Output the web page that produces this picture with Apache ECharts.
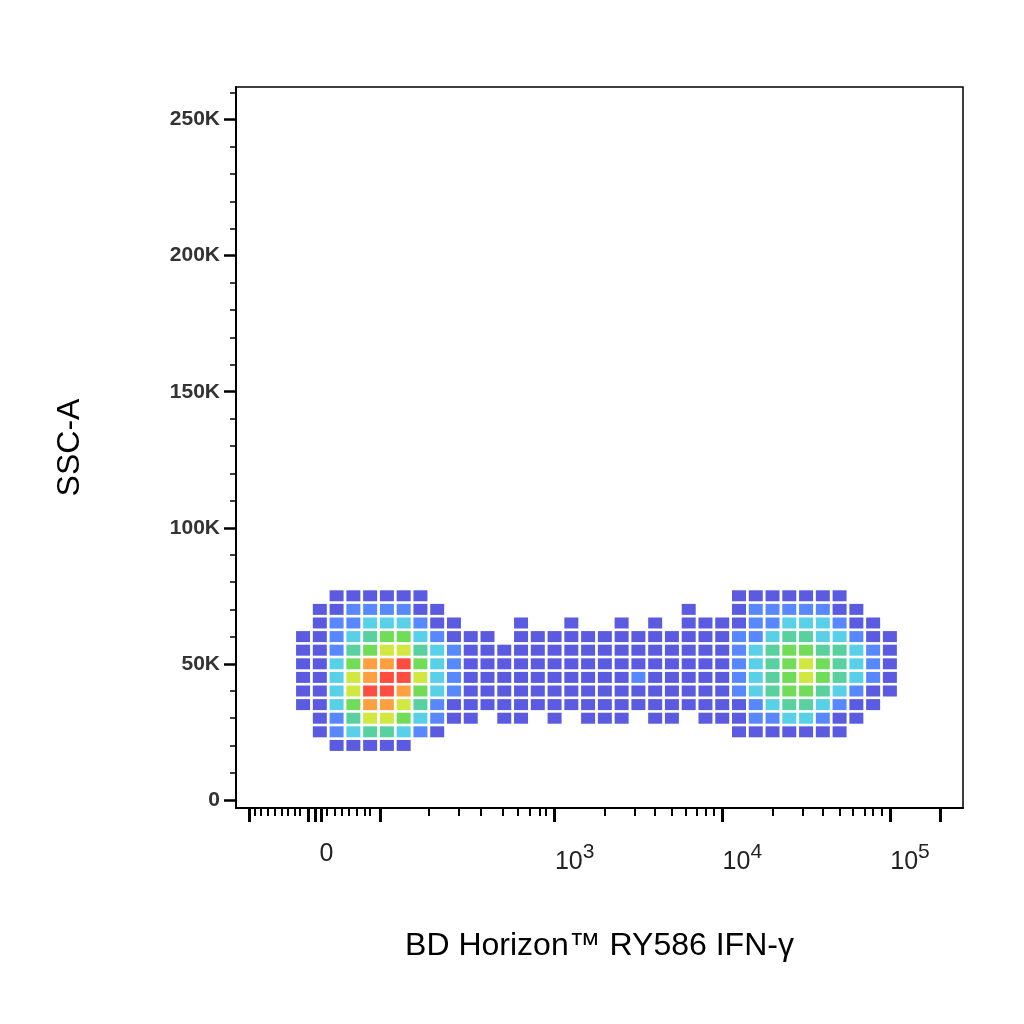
<!DOCTYPE html>
<html><head><meta charset="utf-8">
<script src="https://cdn.jsdelivr.net/npm/echarts@6/dist/echarts.min.js"></script>
<style>html,body{margin:0;background:#fff}#c{width:1024px;height:1024px}</style>
</head><body><div id="c"></div>
<script>
// x in display units: t = log10 position of decades (10^3 -> 3), '0' near 1.64
const xMajorTicks = [1.18, 1.53, 1.57, 1.61, 1.96, 3, 4, 5, 5.3];
const xMinorTicks = [1.21,1.25,1.29,1.33,1.37,1.41,1.45,1.48,1.64,1.69,1.73,1.77,1.82,1.87,1.90,
  2.25,2.43,2.56,2.69,2.78,2.85,2.91,2.95,
  3.30,3.48,3.60,3.70,3.78,3.85,3.90,3.95,
  4.30,4.48,4.60,4.70,4.78,4.85,4.90,4.95];
const xLabelPos = [1.64, 3.12, 4.12, 5.12];
const xLabels = ['0', '10{s|3}', '10{s|4}', '10{s|5}'];
const yMajor = [0, 50, 100, 150, 200, 250];
const yLabels = ['0', '50K', '100K', '150K', '200K', '250K'];
const yMinor = [10,20,30,40,60,70,80,90,110,120,130,140,160,170,180,190,210,220,230,240,260];
// density grid: columns t = 1.5 + 0.1*i, rows SSC (K)
const gridX0 = 1.5, gridDX = 0.1;
const rowY = [75, 70, 65, 60, 55, 50, 45, 40, 35, 30, 25, 20];
const rowDensity = [
 "0011111100000000000000000011111110000",
 "0112222110000000000000010012222211000",
 "0122333211000100100101011112233321100",
 "1123455321110111111111111122344332110",
 "1124566432111111111111111123455443210",
 "1135778532111111111111111123456543210",
 "1136788632111111111121111123456543210",
 "1136887532111111111111111123455432110",
 "1135776421111111111111111112344321100",
 "0124665321101101011101101112233211000",
 "0123443210000000000000000011111110000",
 "0011111000000000000000000000000000000"
];
const pts = [];
rowDensity.forEach((r, j) => { for (let i = 0; i < r.length; i++) { const d = +r[i]; if (d > 0) pts.push([gridX0 + gridDX * i, rowY[j], d]); } });

const xmin = 1.10, xmax = 5.436, ymin = -3, ymax = 262;
const ch = echarts.init(document.getElementById('c'));
const F = 'Liberation Sans, Arial';
ch.setOption({
  animation:false,
  grid:{left:236, right:61, top:87, bottom:216, show:true, borderColor:'#000', borderWidth:1.5},
  xAxis:[
    {type:'value', min:xmin, max:xmax, splitLine:{show:false}, axisLine:{onZero:false, lineStyle:{color:'#000',width:2}},
     axisTick:{length:14, lineStyle:{color:'#000',width:3}, customValues:xMajorTicks},
     axisLabel:{customValues:xLabelPos, formatter:(v)=>xLabels[xLabelPos.indexOf(v)]||'', margin:34,
       rich:{s:{fontSize:21, verticalAlign:'top', padding:[0,0,20,0], color:'#222', fontFamily:F}},
       fontFamily:F, fontSize:25, color:'#222'},
     name:'BD Horizon™ RY586 IFN-γ', nameLocation:'middle', nameGap:122,
     nameTextStyle:{fontFamily:F, fontSize:32, color:'#000'}},
    {type:'value', min:xmin, max:xmax, position:'bottom', splitLine:{show:false}, axisLine:{show:false, onZero:false},
     axisTick:{length:8, lineStyle:{color:'#000',width:2}, customValues:xMinorTicks}, axisLabel:{show:false}}
  ],
  yAxis:[
    {type:'value', min:ymin, max:ymax, splitLine:{show:false}, axisLine:{onZero:false, lineStyle:{color:'#000',width:2}},
     axisTick:{length:12, lineStyle:{color:'#000',width:2.5}, customValues:yMajor},
     axisLabel:{customValues:yMajor, formatter:(v)=>yLabels[yMajor.indexOf(v)]||'', margin:16,
       fontFamily:F, fontWeight:'bold', fontSize:21, color:'#333'},
     name:'SSC-A', nameLocation:'middle', nameGap:150,
     nameTextStyle:{fontFamily:F, fontSize:32, color:'#000'}},
    {type:'value', min:ymin, max:ymax, position:'left', splitLine:{show:false}, axisLine:{show:false, onZero:false},
     axisTick:{length:6, lineStyle:{color:'#000',width:1.5}, customValues:yMinor}, axisLabel:{show:false}}
  ],
  visualMap:{show:false, dimension:2, min:1, max:8,
    inRange:{color:['#2424d8','#2060ff','#20c0e0','#20c080','#40d020','#c0e000','#ff8000','#ff1000']}},
  series:[{type:'scatter', data:pts, symbol:'rect', symbolSize:[14,11], itemStyle:{opacity:0.75}}]
});
</script></body></html>
